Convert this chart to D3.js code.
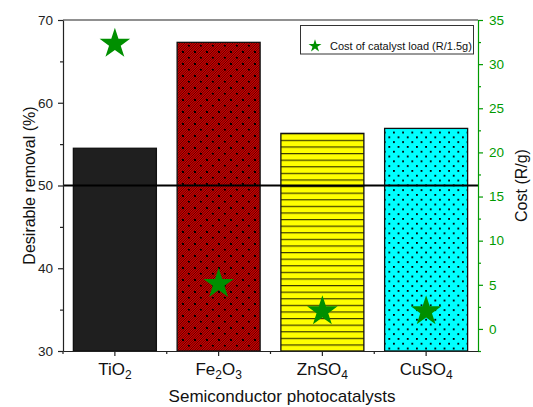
<!DOCTYPE html>
<html>
<head>
<meta charset="utf-8">
<script src="https://cdn.jsdelivr.net/npm/d3@7/dist/d3.min.js"></script>
<style>
  html, body { margin: 0; padding: 0; background: #fff; }
  svg { display: block; font-family: "Liberation Sans", Arial, sans-serif; }
</style>
</head>
<body>
<svg id="chart" width="533" height="407"></svg>
<script>
// ---------- data ----------
const categories = ["TiO2", "Fe2O3", "ZnSO4", "CuSO4"];
const removal = [54.5, 67.3, 56.3, 56.9];          // Desirable removal (%)
const cost = [32.3, 5.1, 2.0, 2.0];                 // Cost of catalyst load (R/1.5g)
const leftTicks = [30, 40, 50, 60, 70];
const leftMinor = [35, 45, 55, 65];
const rightTicks = [0, 5, 10, 15, 20, 25, 30, 35];
const rightMinor = [-2.5, 2.5, 7.5, 12.5, 17.5, 22.5, 27.5, 32.5];
const refValue = 50;
const legendLabel = "Cost of catalyst load (R/1.5g)";
const xTitle = "Semiconductor photocatalysts";
const yLeftTitle = "Desirable removal (%)";
const yRightTitle = "Cost (R/g)";

// ---------- layout ----------
const L = 63, R = 478, T = 20, B = 351;
const green = "#009a00";
const starGreen = "#008f00";
const svg = d3.select("#chart");

const x = d3.scaleBand().domain(categories).range([L, R]).paddingInner(0.2).paddingOuter(0.1);
const yL = d3.scaleLinear().domain([30, 70]).range([B, T]);
const yR = d3.scaleLinear().domain([-2.5, 35]).range([B, T]);

// ---------- patterns ----------
const defs = svg.append("defs");
// Fe2O3: red with dense black diagonal hatch + dots
const p1 = defs.append("pattern").attr("id", "pFe").attr("patternUnits", "userSpaceOnUse")
  .attr("width", 12).attr("height", 12);
p1.append("rect").attr("width", 12).attr("height", 12).attr("fill", "#d00000");
for (let k = -12; k <= 24; k += 2.4) {
  p1.append("line").attr("x1", k).attr("y1", 12).attr("x2", k + 12).attr("y2", 0)
    .attr("stroke", "#2a0000").attr("stroke-width", 0.7);
}
p1.append("rect").attr("x", 2).attr("y", 3).attr("width", 2).attr("height", 2).attr("fill", "#000");
p1.append("rect").attr("x", 8).attr("y", 9).attr("width", 2).attr("height", 1.5).attr("fill", "#000");

// ZnSO4: yellow with horizontal lines
const p2 = defs.append("pattern").attr("id", "pZn").attr("patternUnits", "userSpaceOnUse")
  .attr("width", 10).attr("height", 6.6).attr("y", B);
p2.append("rect").attr("width", 10).attr("height", 6.6).attr("fill", "#ffff00");
p2.append("line").attr("x1", 0).attr("x2", 10).attr("y1", 0.6).attr("y2", 0.6)
  .attr("stroke", "#3a3a00").attr("stroke-width", 1.2);

// CuSO4: cyan with staggered dots
const p3 = defs.append("pattern").attr("id", "pCu").attr("patternUnits", "userSpaceOnUse")
  .attr("width", 9.2).attr("height", 9.6).attr("x", 2).attr("y", 2);
p3.append("rect").attr("width", 9.2).attr("height", 9.6).attr("fill", "#00ffff");
p3.append("rect").attr("x", 0).attr("y", 0).attr("width", 1.8).attr("height", 1.8).attr("fill", "#000");
p3.append("rect").attr("x", 4.6).attr("y", 4.8).attr("width", 1.8).attr("height", 1.8).attr("fill", "#000");

const fills = ["#1f1f1f", "url(#pFe)", "url(#pZn)", "url(#pCu)"];

// ---------- bars ----------
svg.append("g").selectAll("rect").data(categories).join("rect")
  .attr("x", d => x(d))
  .attr("y", (d, i) => yL(removal[i]))
  .attr("width", x.bandwidth())
  .attr("height", (d, i) => B - yL(removal[i]))
  .attr("fill", (d, i) => fills[i])
  .attr("stroke", "#111").attr("stroke-width", 1.3);

// ---------- reference line ----------
svg.append("line").attr("x1", L).attr("x2", R + 1).attr("y1", yL(refValue)).attr("y2", yL(refValue))
  .attr("stroke", "#000").attr("stroke-width", 1.8);

// ---------- frame top ----------
svg.append("line").attr("x1", L).attr("x2", R).attr("y1", T).attr("y2", T)
  .attr("stroke", "#222").attr("stroke-width", 1.2);

// ---------- axes ----------
function styleAxis(g, color) {
  g.select(".domain").attr("stroke", color).attr("stroke-width", 1.2);
  g.selectAll(".tick line").attr("stroke", color).attr("stroke-width", 1.2);
  g.selectAll(".tick text").attr("fill", color);
}
// left
const gl = svg.append("g").attr("transform", `translate(${L},0)`)
  .call(d3.axisLeft(yL).tickValues(leftTicks).tickSize(5).tickPadding(5).tickSizeOuter(0));
gl.selectAll(".tick text").attr("font-size", "13.5px").attr("font-family", "Liberation Sans, Arial, sans-serif");
styleAxis(gl, "#222");
const glm = svg.append("g").attr("transform", `translate(${L},0)`)
  .call(d3.axisLeft(yL).tickValues(leftMinor).tickSize(3).tickFormat("").tickSizeOuter(0));
glm.select(".domain").remove();
styleAxis(glm, "#222");

// right
const gr = svg.append("g").attr("transform", `translate(${R},0)`)
  .call(d3.axisRight(yR).tickValues(rightTicks).tickSize(5).tickPadding(6).tickSizeOuter(0));
gr.selectAll(".tick text").attr("font-size", "13.5px").attr("font-family", "Liberation Sans, Arial, sans-serif");
styleAxis(gr, green);
const grm = svg.append("g").attr("transform", `translate(${R},0)`)
  .call(d3.axisRight(yR).tickValues(rightMinor).tickSize(3).tickFormat("").tickSizeOuter(0));
grm.select(".domain").remove();
styleAxis(grm, green);

// bottom
const gb = svg.append("g").attr("transform", `translate(0,${B})`)
  .call(d3.axisBottom(x).tickSize(5).tickFormat("").tickSizeOuter(0));
styleAxis(gb, "#222");
// minor ticks at category boundaries
const bounds = categories.slice(0, -1).map(c => x(c) + x.bandwidth() + (x.step() - x.bandwidth()) / 2);
bounds.unshift(L);
svg.append("g").selectAll("line").data(bounds).join("line")
  .attr("x1", d => d).attr("x2", d => d).attr("y1", B).attr("y2", B + 3)
  .attr("stroke", "#222").attr("stroke-width", 1.2);

// category labels with subscripts
const labels = svg.append("g").selectAll("text").data(categories).join("text")
  .attr("x", d => x(d) + x.bandwidth() / 2)
  .attr("y", 375)
  .attr("text-anchor", "middle")
  .attr("font-size", "17px")
  .attr("fill", "#111");
labels.each(function(d) {
  const t = d3.select(this);
  const parts = d.match(/[A-Za-z]+|\d+/g);
  let sub = false;
  parts.forEach(p => {
    const isNum = /^\d+$/.test(p);
    const ts = t.append("tspan").text(p);
    if (isNum) {
      ts.attr("font-size", "12px").attr("dy", sub ? 0 : 4);
      sub = true;
    } else {
      if (sub) ts.attr("dy", -4);
      sub = false;
    }
  });
});

// ---------- stars ----------
svg.append("g").selectAll("path").data(categories).join("path")
  .attr("transform", (d, i) => `translate(${x(d) + x.bandwidth() / 2},${yR(cost[i])})`)
  .attr("d", d3.symbol().type(d3.symbolStar).size(290))
  .attr("fill", starGreen);

// ---------- titles ----------
svg.append("text").attr("x", 282).attr("y", 402).attr("text-anchor", "middle")
  .attr("font-size", "17px").attr("fill", "#111").text(xTitle);
svg.append("text").attr("transform", `translate(35,${(T + B) / 2}) rotate(-90)`)
  .attr("text-anchor", "middle").attr("font-size", "16px").attr("fill", "#111").text(yLeftTitle);
svg.append("text").attr("transform", `translate(527,${(T + B) / 2}) rotate(-90)`)
  .attr("text-anchor", "middle").attr("font-size", "16px").attr("fill", "#111").text(yRightTitle);

// ---------- legend ----------
const lg = svg.append("g");
lg.append("rect").attr("x", 300.5).attr("y", 25.5).attr("width", 173).attr("height", 28.5)
  .attr("fill", "#fff").attr("stroke", "#333").attr("stroke-width", 1);
lg.append("path").attr("transform", "translate(315,46)")
  .attr("d", d3.symbol().type(d3.symbolStar).size(52)).attr("fill", starGreen);
lg.append("text").attr("x", 330).attr("y", 50).attr("font-size", "11px").attr("fill", "#111")
  .text(legendLabel);
</script>
</body>
</html>
